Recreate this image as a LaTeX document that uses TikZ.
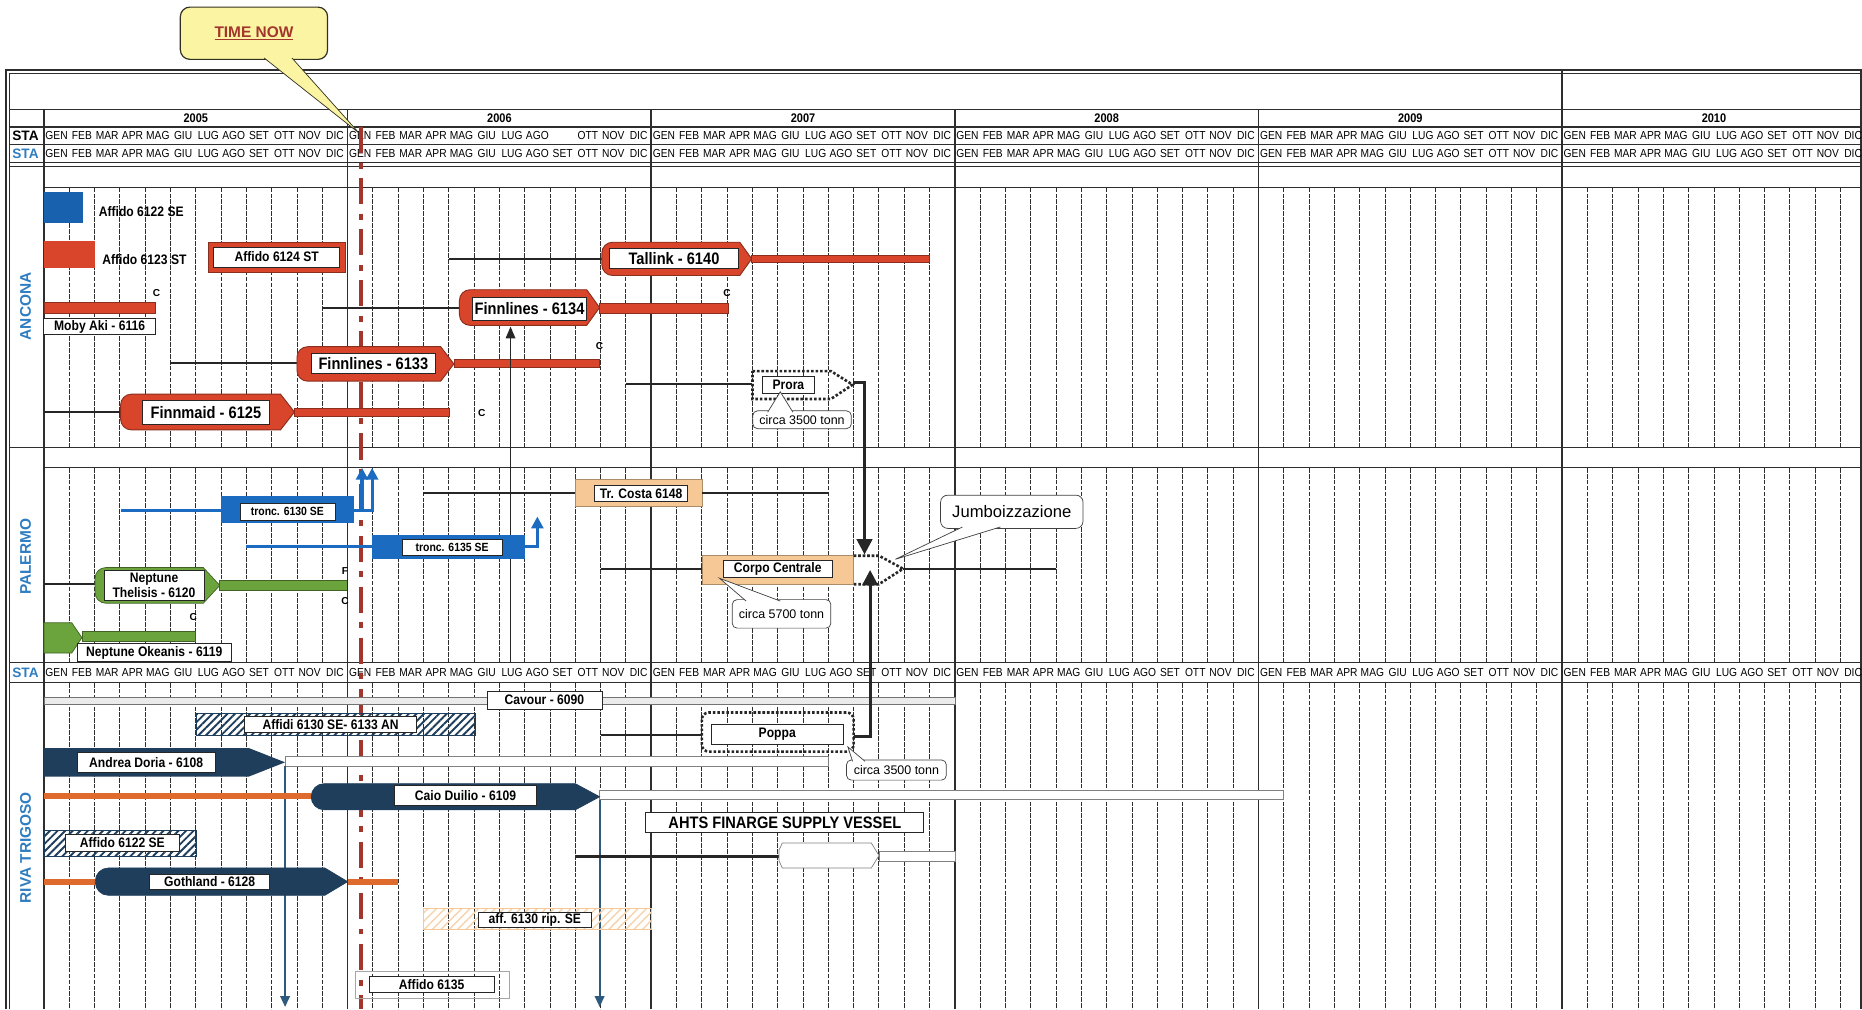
\documentclass[tikz,border=0pt]{standalone}
\usepackage{fontspec}
\setmainfont{Liberation Sans}
\newfontfamily\narrow{Liberation Sans}[FakeStretch=0.88]
\usetikzlibrary{arrows.meta,patterns.meta,calc}
\definecolor{gridgrey}{HTML}{2E2E2E}
\definecolor{shipred}{HTML}{D8452B}
\definecolor{shipredline}{HTML}{8A2E1E}
\definecolor{tronc}{HTML}{1B6CC1}
\definecolor{neptune}{HTML}{6BA33C}
\definecolor{navyhull}{HTML}{1E3E5C}
\definecolor{rust}{HTML}{DF6A2E}
\definecolor{peach}{HTML}{F5C896}
\definecolor{sectionblue}{HTML}{2F7DC1}
\definecolor{notepaper}{HTML}{FBF4A3}
\definecolor{nowred}{HTML}{A3362C}
\definecolor{arrowblue}{HTML}{2D5A7E}
\def\mesi{GEN,FEB,MAR,APR,MAG,GIU,LUG,AGO,SET,OTT,NOV,DIC}
% hull: rounded stern on the left, bow tip on the right
% [radius]{style}{x stern}{x bow tip}{x bow start}{y top}{y bottom}
\newcommand{\vessel}[7][8pt]{%
  \path[#2] ({(#3+#5)/2},#6) [rounded corners=#1] -- (#3,#6) -- (#3,#7)
    -- ({(#3+#5)/2},#7) [sharp corners] -- (#5,#7) -- (#4,{(#6+#7)/2}) -- (#5,#6) -- cycle;}
% callout wedge: [edge colour]{fill}{base left}{base right}{tip}
\newcommand{\pointer}[5][black!75]{%
  \fill[#2] #3 -- #5 -- #4 -- cycle;
  \draw[#1,line width=0.6pt] #3 -- #5 -- #4;}

\begin{document}
\begin{tikzpicture}[x=21.31pt,y=-1pt,
  month/.style={font=\narrow\fontsize{9.8}{9.8}\selectfont,inner sep=0pt},
  yearlab/.style={font=\narrow\bfseries\fontsize{10.5}{10.5}\selectfont,inner sep=0pt},
  stalab/.style={font=\bfseries\fontsize{11.5}{11.5}\selectfont,inner sep=0pt},
  sitename/.style={font=\bfseries\fontsize{13}{13}\selectfont,text=sectionblue,rotate=90,inner sep=0pt},
  frame/.style={draw=gridgrey,line width=1.6pt},
  rule/.style={draw=gridgrey,line width=1pt},
  yearline/.style={draw=gridgrey,line width=1.5pt},
  monthline/.style={draw=gridgrey,line width=0.8pt,dash pattern=on 4pt off 1pt},
  nowline/.style={draw=nowred,line width=3.5pt,dash pattern=on 22pt off 8pt on 5pt off 8pt},
  tag/.style={draw=black!85,fill=white,line width=0.6pt,inner sep=0pt,
              font=\narrow\bfseries\fontsize{11.6}{13}\selectfont},
  bigtag/.style={tag,line width=0.8pt,font=\narrow\bfseries\fontsize{14}{14}\selectfont},
  smalltag/.style={tag,font=\narrow\bfseries\fontsize{10}{10}\selectfont},
  plain/.style={inner sep=0pt,font=\narrow\bfseries\fontsize{11.6}{13}\selectfont},
  note/.style={draw=black!75,fill=white,line width=0.6pt,rounded corners=4pt,inner sep=0pt,
               font=\fontsize{10.5}{10.5}\selectfont},
  cmark/.style={font=\bfseries\fontsize{8.5}{8.5}\selectfont,inner sep=0.5pt},
  link/.style={draw=black!85,line width=1.7pt},
  heavy/.style={draw=black!85,line width=2.6pt},
  bluelink/.style={draw=tronc,line width=2.6pt},
  rustline/.style={draw=rust,line width=5pt},
  dotline/.style={draw=black!85,line width=2.2pt,dash pattern=on 2.2pt off 1.6pt},
  redhull/.style={fill=shipred,draw=shipredline,line width=0.8pt},
  redbar/.style={fill=shipred,draw=shipredline,line width=0.5pt},
  greenhull/.style={fill=neptune,draw=neptune!60!black,line width=0.6pt},
  navyfill/.style={fill=navyhull,draw=navyhull,line width=0.6pt},
  peachbox/.style={fill=peach,draw=peach!70!black,line width=0.4pt},
  greybar/.style={fill=black!8,draw=black!55,line width=0.6pt},
  whitebar/.style={fill=white,draw=black!50,line width=0.6pt},
  hatchnavy/.style={pattern={Lines[angle=45,distance=4.5pt,line width=1.6pt]},
                    pattern color=navyhull,draw=navyhull,line width=0.3pt},
  hatchpeach/.style={pattern={Lines[angle=45,distance=5pt,line width=1.2pt]},
                     pattern color=peach!80,draw=peach,line width=0.5pt},
  downarrow/.style={draw=arrowblue,line width=1.5pt,-{Triangle[length=9pt,width=8pt]}},
  bluetip/.style={bluelink,-{Triangle[length=10pt,width=10pt]}},
  bigtip/.style={heavy,-{Triangle[length=13pt,width=13pt]}}
]
\useasboundingbox (-1.7365,0) rectangle (71.85,850);

% frame, rules and year columns
\draw[frame] (-1.5,850) -- (-1.5,59) -- (71.8,59) -- (71.8,850);
\draw[rule,line width=0.6pt] (-1.36,850) -- (-1.36,62) -- (71.8,62);
\foreach \yy in {92,107,122,137,140,377,558,575}
  \draw[rule] (-1.36,\yy) -- (71.8,\yy);
\foreach \yy in {158,394}
  \draw[rule] (0,\yy) -- (71.8,\yy);
\draw[yearline] (0,92) -- (0,850);
\foreach \k in {1,...,4}
  \draw[yearline] (12*\k,92) -- (12*\k,850);
\draw[yearline] (60,59) -- (60,850);

% month grid
\foreach \yr in {0,...,5}
  \foreach \mo in {1,...,11}
    \foreach \ya/\yb in {158/377,394/558,575/850}
      \draw[monthline] ({12*\yr+\mo},\ya) -- ({12*\yr+\mo},\yb);

% header text
\foreach \yr [count=\k from 0] in {2005,...,2010}
  \node[yearlab] at ({12*\k+6},99.5) {\yr};
\foreach \yr in {0,...,5}
  \foreach \mn [count=\i from 0] in \mesi {
    \ifnum\numexpr12*\yr+\i\relax=20 \else
      \node[month] at ({12*\yr+\i+0.5},114.5) {\mn};\fi
    \node[month] at ({12*\yr+\i+0.5},129.5) {\mn};
    \node[month] at ({12*\yr+\i+0.5},566.5) {\mn};
  }
\node[stalab] at (-0.73,114.5) {STA};
\node[stalab,text=sectionblue] at (-0.73,129.5) {STA};
\node[stalab,text=sectionblue] at (-0.73,566.5) {STA};
\node[sitename] at (-0.73,258) {ANCONA};
\node[sitename] at (-0.73,469) {PALERMO};
\node[sitename] at (-0.73,714) {RIVA TRIGOSO};

% time now
\draw[nowline] (12.53,107) -- (12.53,850);
\node[draw=black!60!notepaper!50!black,fill=notepaper,line width=1pt,rounded corners=8pt,
      minimum width=124pt,minimum height=44pt,text=nowred,
      font=\bfseries\fontsize{13}{13}\selectfont] (nowbox) at (8.3,28) {\underline{TIME NOW}};
\pointer[black!60!notepaper!50!black]{notepaper}{(8.7,48.8)}{(9.8,48.8)}{(12.45,112)}

% ---------------- ANCONA
\fill[tronc!90!black] (0,162) rectangle (1.55,188);
\node[plain,anchor=west] at (2.16,178) {Affido 6122 SE};
\fill[shipred] (0,203) rectangle (2.03,226);
\node[plain,anchor=west] at (2.3,219) {Affido 6123 ST};
\draw[redbar] (6.48,204) rectangle (11.92,229);
\node[tag,minimum width=106pt,minimum height=17pt] (a6124) at (9.2,216.5) {Affido 6124 ST};
\draw[redbar] (0,255) rectangle (4.4,264);
\node[tag,minimum width=94pt,minimum height=14pt] (moby) at (2.2,275) {Moby Aki - 6116};
\node[cmark] at (4.45,247) {C};

\draw[link] (16,218) -- (22.05,218);
\vessel[9pt]{redhull}{22.05}{27.97}{27.5}{204}{232}
\node[bigtag,minimum width=109pt,minimum height=17pt] (tallink) at (24.9,217.5) {Tallink - 6140};
\draw[redbar] (27.97,215) rectangle (35,221);

\draw[link] (11,259) -- (16.42,259);
\vessel[9pt]{redhull}{16.42}{21.96}{21.45}{244}{274}
\node[bigtag,minimum width=96pt,minimum height=19pt] (f6134) at (19.19,260) {Finnlines - 6134};
\draw[redbar] (21.96,255.5) rectangle (27.03,263.5);
\node[cmark] at (27.0,247) {C};

\draw[link] (5,306) -- (10,306);
\vessel[9pt]{redhull}{10}{16.2}{15.68}{292}{321}
\node[bigtag,minimum width=104pt,minimum height=17pt] (f6133) at (13.02,306) {Finnlines - 6133};
\draw[redbar] (16.2,303) rectangle (21.96,309.5);
\node[cmark] at (21.96,291) {C};

\draw[link] (0,347) -- (3.03,347);
\vessel[9pt]{redhull}{3.03}{9.9}{9.35}{332}{362}
\node[bigtag,minimum width=107pt,minimum height=20pt] (finnmaid) at (6.4,347.5) {Finnmaid - 6125};
\draw[redbar] (9.9,344) rectangle (16,351);
\node[cmark] at (17.3,348) {C};

\draw[link,line width=1.5pt,-{Triangle[length=10pt,width=8pt]}] (18.44,558) -- (18.44,275);

\draw[link] (23,323) -- (28,323);
\draw[dotline] (28,312.5) -- (31.1,312.5) -- (31.96,324) -- (31.1,336) -- (28,336) -- cycle;
\node[tag,minimum width=44pt,minimum height=14.5pt] (prora) at (29.42,324) {Prora};
\node[note,minimum width=83pt,minimum height=15pt] (proranote) at (29.96,353.5) {circa 3500 tonn};
\pointer{white}{(28.6,347.2)}{(29.6,347.2)}{(29.1,330)}
\draw[bigtip] (31.96,322) -- (32.43,322) -- (32.43,467);

% ---------------- PALERMO
\draw[bluelink] (3.05,430) -- (7,430);
\fill[tronc] (7,418) rectangle (12.27,440.5);
\node[smalltag,minimum width=80pt,minimum height=14pt] (t6130) at (9.62,431) {tronc. 6130 SE};
\draw[bluetip] (12.27,430) -- (12.97,430) -- (12.97,394);
\draw[bluetip] (12.57,430) -- (12.57,394);

\draw[bluelink] (8,460.5) -- (12.97,460.5);
\fill[tronc] (12.97,450.5) rectangle (19,471);
\node[smalltag,minimum width=84pt,minimum height=13.5pt] (t6135) at (16.13,461) {tronc. 6135 SE};
\draw[bluetip] (19,460.5) -- (19.5,460.5) -- (19.5,435);

\draw[link] (15,415) -- (21,415);
\draw[peachbox] (21,404) rectangle (26,426);
\node[tag,minimum width=78pt,minimum height=13pt] (costa) at (23.6,415.5) {Tr. Costa 6148};
\draw[link] (26,415) -- (31,415);

\draw[link] (22,479) -- (26,479);
\draw[peachbox] (26,468) rectangle (32,492);
\node[tag,minimum width=92pt,minimum height=15pt] (corpo) at (29,479) {Corpo Centrale};
\node[note,minimum width=83pt,minimum height=24pt] (corponote) at (29.15,517) {circa 5700 tonn};
\pointer{white}{(27.75,506.2)}{(29.1,506.2)}{(26.7,487)}

\draw[dotline] (32,468) -- (33,468) -- (33.95,479) -- (33,492) -- (32,492);
\draw[link] (33.95,479) -- (40,479);
\node[note,rounded corners=6pt,minimum width=120pt,minimum height=28pt,
      font=\fontsize{14}{14}\selectfont] (jumbo) at (38.25,431) {Jumboizzazione};
\pointer{white}{(36.3,443.8)}{(37.8,443.8)}{(33.65,471)}

\draw[link] (0,492) -- (2.02,492);
\vessel[9pt]{greenhull}{2.02}{6.95}{6.3}{478}{508}
\node[tag,align=center,minimum width=84pt,minimum height=26pt] (thelisis) at (4.35,493)
  {Neptune\\Thelisis - 6120};
\draw[greenhull] (6.95,489) rectangle (12,497);
\draw[link,line width=1.2pt] (12,486) -- (12,500);
\node[cmark] at (11.9,481) {F};
\node[cmark] at (11.9,506) {C};

\draw[greenhull] (0,524.5) -- (1.1,524.5) -- (1.5,537) -- (1.1,550) -- (0,550) -- cycle;
\draw[greenhull] (1.5,532) rectangle (6,540.5);
\node[cmark] at (5.9,520) {C};
\node[tag,minimum width=130pt,minimum height=15pt] (okeanis) at (4.36,549.5) {Neptune Okeanis - 6119};

% ---------------- RIVA TRIGOSO
\draw[greybar] (0,587) rectangle (36,593);
\node[tag,minimum width=97pt,minimum height=15pt] (cavour) at (19.78,589.5) {Cavour - 6090};
\draw[hatchnavy] (6,601) rectangle (17.03,619);
\node[tag,minimum width=145pt,minimum height=14pt] (affidi) at (11.33,610) {Affidi 6130 SE- 6133 AN};

\draw[link] (22,619) -- (26,619);
\draw[dotline,rounded corners=6pt] (26,600) rectangle (32,633);
\node[tag,minimum width=111pt,minimum height=17pt] (poppa) at (28.98,618.5) {Poppa};
\draw[bigtip] (32,620) -- (32.65,620) -- (32.65,480);
\node[note,minimum width=84pt,minimum height=17pt] (poppanote) at (33.69,648.5) {circa 3500 tonn};
\pointer{white}{(31.96,641.2)}{(32.45,641.2)}{(31.77,629)}

\draw[whitebar] (9.53,637) rectangle (31,645);
\fill[navyhull] (0,630) -- (8.1,630) -- (9.53,642) -- (8.1,654) -- (0,654) -- cycle;
\node[tag,minimum width=116pt,minimum height=17pt] (doria) at (4.04,642) {Andrea Doria - 6108};
\draw[downarrow] (9.53,645) -- (9.53,848);

\draw[rustline] (0,670) -- (10.56,670);
\draw[whitebar] (21.96,665.5) rectangle (49,673.5);
\vessel[11pt]{navyfill}{10.56}{21.96}{21.0}{660}{682}
\node[tag,minimum width=120pt,minimum height=17pt] (duilio) at (16.66,670) {Caio Duilio - 6109};
\draw[downarrow] (21.96,673.5) -- (21.96,848);

\node[bigtag,minimum width=234pt,minimum height=17pt] (ahts) at (29.28,692.5) {AHTS FINARGE SUPPLY VESSEL};
\draw[heavy] (21.02,721) -- (29.05,721);
\draw[whitebar] (29.05,716) -- (29.18,710) -- (32.7,710) -- (33,720.5) -- (32.7,731) -- (29.18,731)
  -- (29.05,725) -- cycle;
\draw[whitebar] (33,717) rectangle (36,725);

\draw[hatchnavy] (0,699) rectangle (6,721);
\node[tag,minimum width=96pt,minimum height=14.5pt] (a6122) at (3.1,710) {Affido 6122 SE};

\draw[rustline] (0,742.5) -- (2.03,742.5);
\vessel[11pt]{navyfill}{2.03}{12}{11.1}{731}{754}
\node[tag,minimum width=101pt,minimum height=13pt] (gothland) at (6.55,742.5) {Gothland - 6128};
\draw[rustline] (12,742.5) -- (14,742.5);

\draw[hatchpeach] (15,765) rectangle (24,783);
\node[tag,minimum width=95pt,minimum height=13pt] (rip) at (19.4,774.5) {aff. 6130 rip. SE};

\draw[draw=black!35,line width=0.8pt] (12.3,818) rectangle (18.4,841);
\node[tag,minimum width=105pt,minimum height=14pt] (a6135) at (15.32,829) {Affido 6135};
\end{tikzpicture}
\end{document}
